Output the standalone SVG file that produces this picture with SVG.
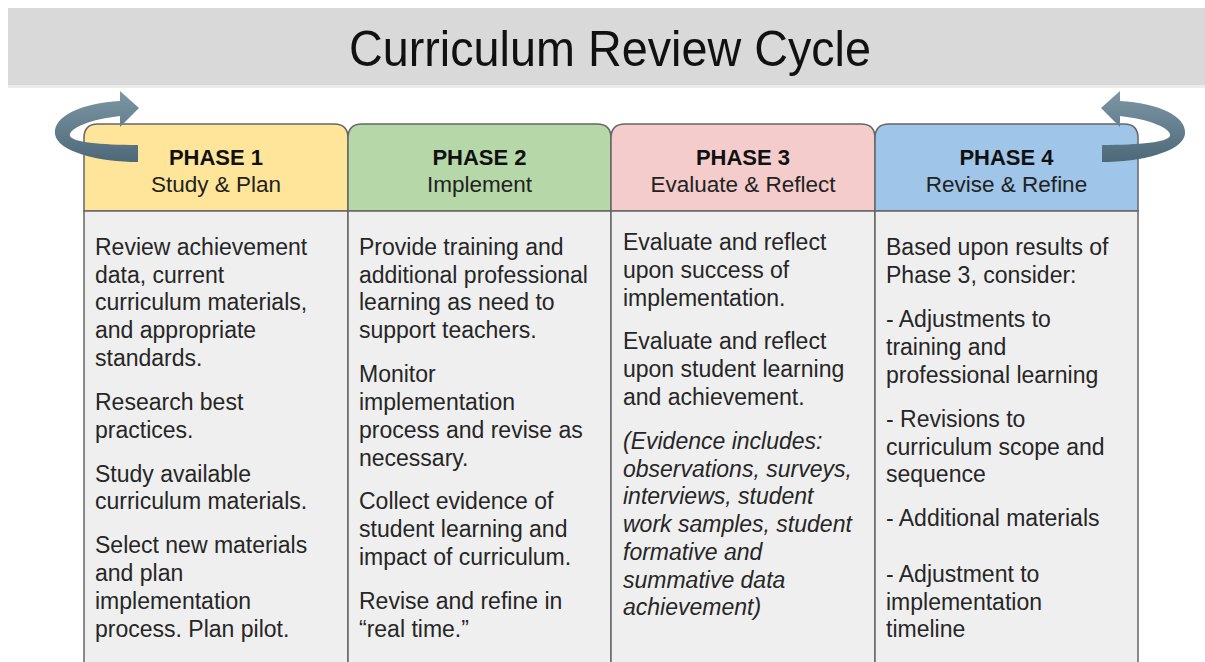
<svg xmlns="http://www.w3.org/2000/svg" width="1205" height="662" viewBox="0 0 1205 662">
<style>
  .hd { stroke:#666666; stroke-width:1.5; }
  .bd { fill:#efefef; stroke:#666666; stroke-width:1.5; }
  .ph { font-family:"Liberation Sans",Arial,sans-serif; font-size:22px; font-weight:bold; fill:#111; text-anchor:middle; }
  .sub { font-family:"Liberation Sans",Arial,sans-serif; font-size:22.5px; fill:#222; text-anchor:middle; }
  .tx { font-family:"Liberation Sans",Arial,sans-serif; font-size:23px; fill:#262626; }
  .it { font-style:italic; }
  .arrow { fill:url(#ag); }
</style>
<defs>
  <linearGradient id="ag" x1="0" y1="0" x2="0" y2="1">
    <stop offset="0" stop-color="#7d97a5"/>
    <stop offset="1" stop-color="#4d6878"/>
  </linearGradient>
</defs>
<rect x="0" y="0" width="1205" height="662" fill="#ffffff"/>
<g id="title">
  <rect x="8" y="85" width="1197" height="3" fill="#ececec"/>
  <rect x="8" y="8" width="1197" height="77" fill="#d9d9d9"/>
  <text x="610" y="66" font-family="'Liberation Sans',Arial,sans-serif" font-size="50" fill="#111" text-anchor="middle" textLength="522" lengthAdjust="spacingAndGlyphs">Curriculum Review Cycle</text>
</g>
<g id="phase1">
  <path class="hd" fill="#ffe599" d="M84,211 V138 Q84,124 98,124 H334 Q348,124 348,138 V211 Z"/>
  <rect class="bd" x="84" y="211" width="264" height="470"/>
  <text class="ph" x="216" y="165">PHASE 1</text>
  <text class="sub" x="216" y="192">Study &amp; Plan</text>
  <text class="tx" x="95" y="255">Review achievement</text>
  <text class="tx" x="95" y="283">data, current</text>
  <text class="tx" x="95" y="310">curriculum materials,</text>
  <text class="tx" x="95" y="338">and appropriate</text>
  <text class="tx" x="95" y="366">standards.</text>
  <text class="tx" x="95" y="410">Research best</text>
  <text class="tx" x="95" y="438">practices.</text>
  <text class="tx" x="95" y="482">Study available</text>
  <text class="tx" x="95" y="509">curriculum materials.</text>
  <text class="tx" x="95" y="553">Select new materials</text>
  <text class="tx" x="95" y="581">and plan</text>
  <text class="tx" x="95" y="609">implementation</text>
  <text class="tx" x="95" y="637">process. Plan pilot.</text>
</g>
<g id="phase2">
  <path class="hd" fill="#b6d7a8" d="M348,211 V138 Q348,124 362,124 H597 Q611,124 611,138 V211 Z"/>
  <rect class="bd" x="348" y="211" width="263" height="470"/>
  <text class="ph" x="479.5" y="165">PHASE 2</text>
  <text class="sub" x="479.5" y="192">Implement</text>
  <text class="tx" x="359" y="255">Provide training and</text>
  <text class="tx" x="359" y="283">additional professional</text>
  <text class="tx" x="359" y="310">learning as need to</text>
  <text class="tx" x="359" y="338">support teachers.</text>
  <text class="tx" x="359" y="382">Monitor</text>
  <text class="tx" x="359" y="410">implementation</text>
  <text class="tx" x="359" y="438">process and revise as</text>
  <text class="tx" x="359" y="466">necessary.</text>
  <text class="tx" x="359" y="509">Collect evidence of</text>
  <text class="tx" x="359" y="537">student learning and</text>
  <text class="tx" x="359" y="565">impact of curriculum.</text>
  <text class="tx" x="359" y="609">Revise and refine in</text>
  <text class="tx" x="359" y="637">“real time.”</text>
</g>
<g id="phase3">
  <path class="hd" fill="#f4cccc" d="M611,211 V138 Q611,124 625,124 H861 Q875,124 875,138 V211 Z"/>
  <rect class="bd" x="611" y="211" width="264" height="470"/>
  <text class="ph" x="743" y="165">PHASE 3</text>
  <text class="sub" x="743" y="192">Evaluate &amp; Reflect</text>
  <text class="tx" x="623" y="250">Evaluate and reflect</text>
  <text class="tx" x="623" y="278">upon success of</text>
  <text class="tx" x="623" y="306">implementation.</text>
  <text class="tx" x="623" y="349">Evaluate and reflect</text>
  <text class="tx" x="623" y="377">upon student learning</text>
  <text class="tx" x="623" y="405">and achievement.</text>
  <text class="tx it" x="623" y="449">(Evidence includes:</text>
  <text class="tx it" x="623" y="477">observations, surveys,</text>
  <text class="tx it" x="623" y="504">interviews, student</text>
  <text class="tx it" x="623" y="532">work samples, student</text>
  <text class="tx it" x="623" y="560">formative and</text>
  <text class="tx it" x="623" y="588">summative data</text>
  <text class="tx it" x="623" y="615">achievement)</text>
</g>
<g id="phase4">
  <path class="hd" fill="#9fc5e8" d="M875,211 V138 Q875,124 889,124 H1124 Q1138,124 1138,138 V211 Z"/>
  <rect class="bd" x="875" y="211" width="263" height="470"/>
  <text class="ph" x="1006.5" y="165">PHASE 4</text>
  <text class="sub" x="1006.5" y="192">Revise &amp; Refine</text>
  <text class="tx" x="886" y="255">Based upon results of</text>
  <text class="tx" x="886" y="283">Phase 3, consider:</text>
  <text class="tx" x="886" y="327">- Adjustments to</text>
  <text class="tx" x="886" y="355">training and</text>
  <text class="tx" x="886" y="383">professional learning</text>
  <text class="tx" x="886" y="427">- Revisions to</text>
  <text class="tx" x="886" y="455">curriculum scope and</text>
  <text class="tx" x="886" y="482">sequence</text>
  <text class="tx" x="886" y="526">- Additional materials</text>
  <text class="tx" x="886" y="582">- Adjustment to</text>
  <text class="tx" x="886" y="610">implementation</text>
  <text class="tx" x="886" y="637">timeline</text>
</g>
<g id="connectors">
  <path id="cycle-left" class="arrow" d="M138,145 C100,145 72,142 70,136 C68,128 92,119 120,116 L120,127 L139,108 L120,91 L120,101 C82,103 53,116 55,134 C57,152 100,162 138,162 Z"/>
  <path id="cycle-right" class="arrow" transform="translate(1240,0) scale(-1,1)" d="M138,145 C100,145 72,142 70,136 C68,128 92,119 120,116 L120,127 L139,108 L120,91 L120,101 C82,103 53,116 55,134 C57,152 100,162 138,162 Z"/>
</g>
</svg>
